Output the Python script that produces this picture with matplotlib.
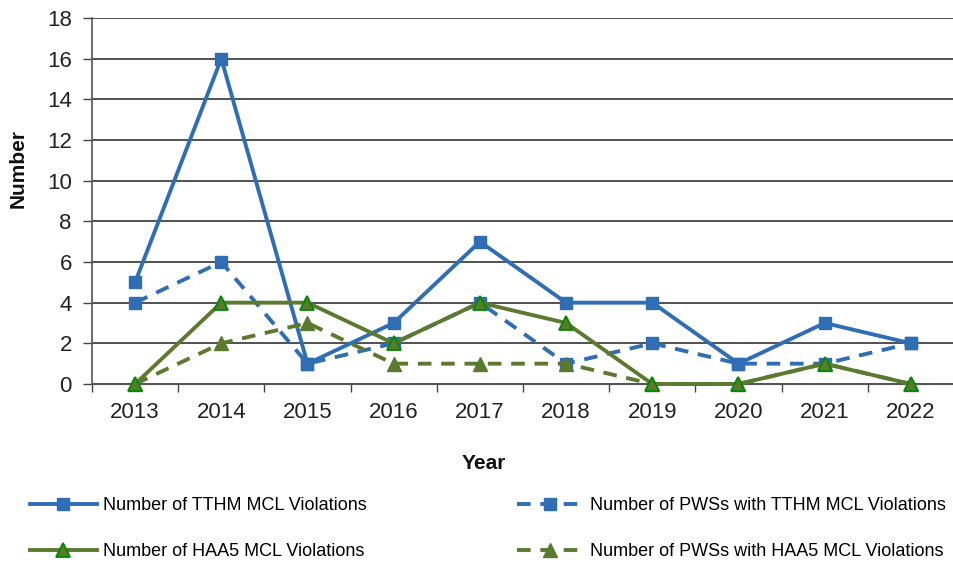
import matplotlib
matplotlib.use("Agg")
import matplotlib.pyplot as plt
from matplotlib import font_manager

years = ["2013", "2014", "2015", "2016", "2017", "2018", "2019", "2020", "2021", "2022"]
tthm_violations = [5, 16, 1, 3, 7, 4, 4, 1, 3, 2]
pws_tthm = [4, 6, 1, 2, 4, 1, 2, 1, 1, 2]
haa5_violations = [0, 4, 4, 2, 4, 3, 0, 0, 1, 0]
pws_haa5 = [0, 2, 3, 1, 1, 1, 0, 0, 1, 0]

names = {f.name for f in font_manager.fontManager.ttflist}
family = "Liberation Sans Narrow" if "Liberation Sans Narrow" in names else "Liberation Sans"
plt.rcParams["font.family"] = [family, "DejaVu Sans"]

BLUE = "#2f6db5"
OLIVE = "#5b7a2f"
GREEN = "#008a00"

W, H = 954, 565
fig = plt.figure(figsize=(W / 100, H / 100), dpi=100)
ax = fig.add_axes([92 / W, 1 - 384 / H, 1 - 92 / W, 366 / H])

x = list(range(len(years)))
dash = (0, (3.5, 2.5))
l_pws_tthm, = ax.plot(x, pws_tthm, color=BLUE, lw=2.8, ls=dash, marker="s", ms=9,
                      label="Number of PWSs with TTHM MCL Violations", zorder=3)
l_tthm, = ax.plot(x, tthm_violations, color=BLUE, lw=2.8, marker="s", ms=9,
                  label="Number of TTHM MCL Violations", zorder=4)
l_pws_haa5, = ax.plot(x, pws_haa5, color=OLIVE, lw=2.8, ls=dash, marker="^", ms=9.5,
                      label="Number of PWSs with HAA5 MCL Violations", zorder=5,
                      clip_on=False)
l_haa5, = ax.plot(x, haa5_violations, color=OLIVE, lw=2.8, marker="^", ms=9.5,
                  mfc=OLIVE, mec=GREEN, mew=1.3,
                  label="Number of HAA5 MCL Violations", zorder=6, clip_on=False)

ax.set_ylim(0, 18)
ax.set_yticks(range(0, 19, 2))
ax.set_xlim(-0.5, 9.425)
ax.set_xticks(x)
ax.set_xticklabels(years)
ax.set_xticks([i + 0.5 for i in range(-1, 10)], minor=True)
ax.tick_params(axis="x", which="major", length=0, pad=13, labelsize=16, colors="#222222")
ax.tick_params(axis="x", which="minor", length=5.5, width=1, color="#444444")
ax.tick_params(axis="y", length=6.5, width=1, color="#444444", pad=8, labelsize=16,
               labelcolor="#222222")
ax.grid(axis="y", color="#222222", lw=1.1)
ax.set_axisbelow(True)
for s in ["top", "right"]:
    ax.spines[s].set_visible(False)
ax.spines["left"].set_color("#555555")
ax.spines["bottom"].set_color("#555555")
ax.spines["left"].set_linewidth(1.2)

ax.set_xlabel("Year", fontsize=15, fontweight="bold", color="#111111")
ax.xaxis.set_label_coords((484 - 92) / (W - 92), -(454 - 384) / 366)
ax.set_ylabel("Number", fontsize=15, fontweight="bold", color="#111111")
ax.yaxis.set_label_coords(-(92 - 28) / (W - 92), 0.59)

# legend: two columns placed where the reference has them
leg_kw = dict(loc="center left", frameon=False, fontsize=13, handlelength=3.7,
              handletextpad=0.33, labelspacing=1.6, borderpad=0, borderaxespad=0)
fig.legend([l_tthm, l_haa5], [l_tthm.get_label(), l_haa5.get_label()],
           bbox_to_anchor=(30 / W, 1 - 528.5 / H), **leg_kw)
fig.legend([l_pws_tthm, l_pws_haa5], [l_pws_tthm.get_label(), l_pws_haa5.get_label()],
           bbox_to_anchor=(517 / W, 1 - 528.5 / H), **leg_kw)

fig.savefig("out.png", dpi=100)
